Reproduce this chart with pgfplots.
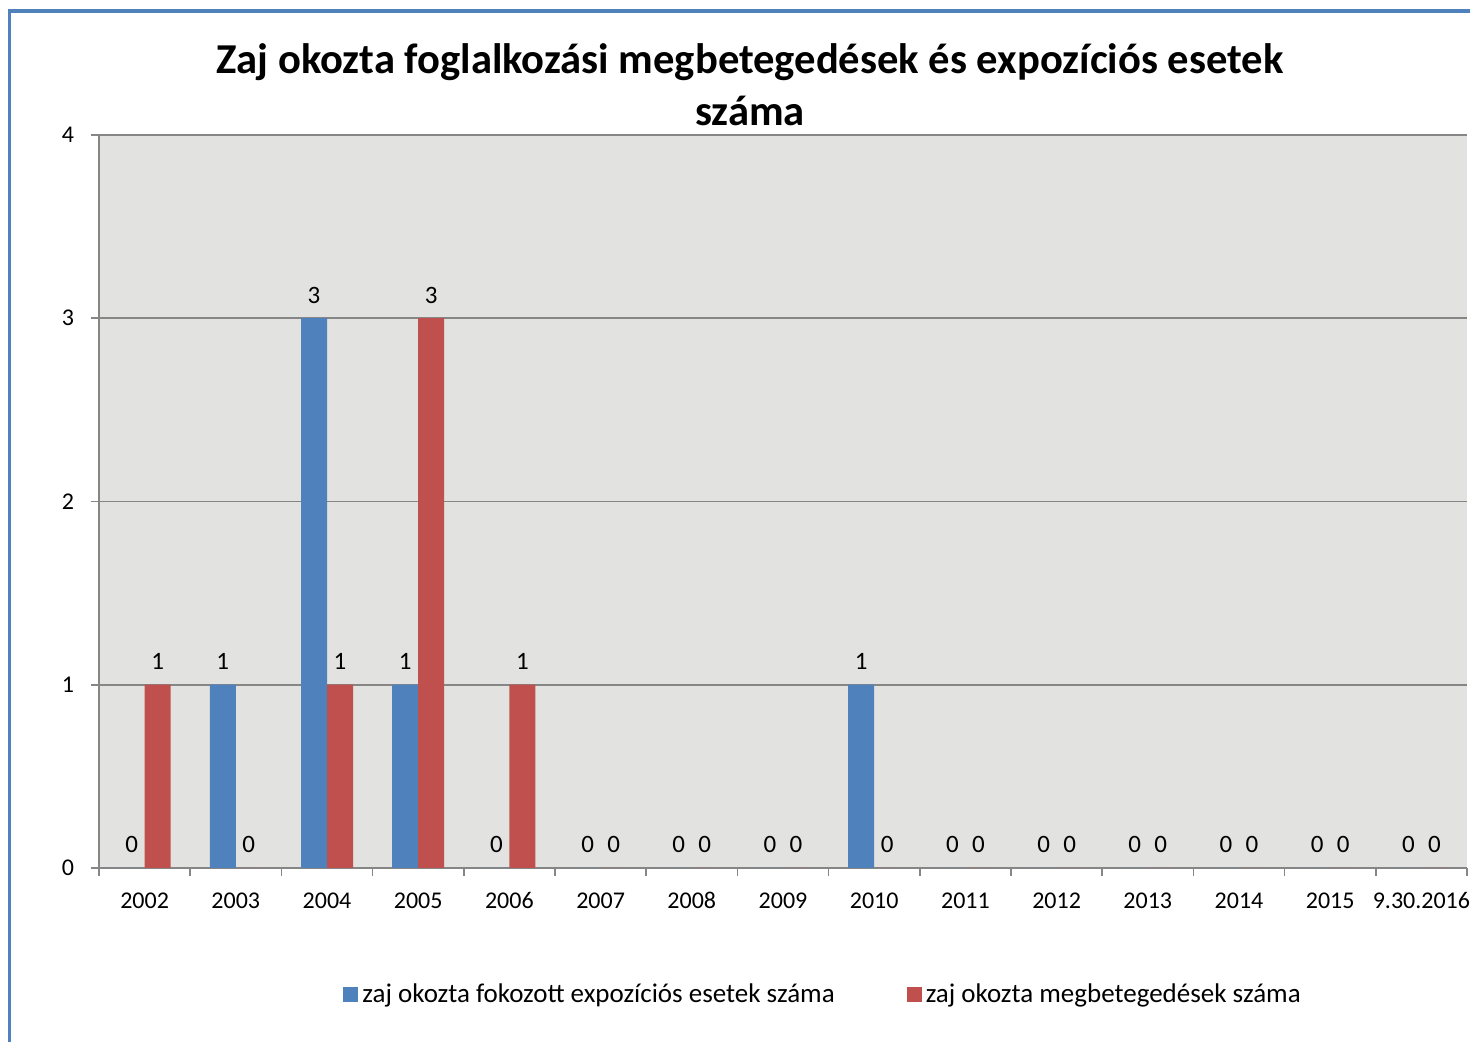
\documentclass[border=0pt]{standalone}
\usepackage{pgfplots}
\pgfplotsset{compat=1.18}
\usepackage{fontspec}
\setmainfont{Carlito}
\definecolor{xlblue}{RGB}{79,129,189}
\definecolor{xlred}{RGB}{192,80,77}
\definecolor{bgray}{RGB}{226,226,224}
\definecolor{gridgray}{RGB}{134,134,134}
\begin{document}
\begin{tikzpicture}
\useasboundingbox (0pt,0pt) rectangle (735pt,521pt);
\draw[xlblue,line width=1.6pt] (4.8pt,0pt) -- (4.8pt,515.5pt) -- (735pt,515.5pt);
\node[align=center,font=\fontsize{21.3}{26}\selectfont\bfseries] at (375pt,478.5pt)
  {Zaj okozta foglalkozási megbetegedések és expozíciós esetek\\száma};
\begin{axis}[
  at={(49.5pt,87pt)}, anchor=south west,
  scale only axis, width=684pt, height=366.5pt,
  xmin=-0.5, xmax=14.5, ymin=0, ymax=4,
  ybar=0pt, bar width=13pt,
  axis lines=left, axis line style={-,gridgray,line width=0.8pt},
  axis background/.style={fill=bgray},
  ymajorgrids, grid style={gridgray,line width=0.8pt},
  ytick={0,1,2,3,4},
  xtick={0,...,14},
  xticklabels={2002,2003,2004,2005,2006,2007,2008,2009,2010,2011,2012,2013,2014,2015,9.30.2016},
  minor xtick={-0.5,0.5,...,14.5},
  major x tick style={draw=none},
  minor x tick style={gridgray,line width=0.8pt},
  y tick style={gridgray,line width=0.8pt},
  tick align=outside,
  major tick length=4pt, minor tick length=4pt,
  xticklabel style={yshift=-4pt, text height=8.5pt, text depth=0pt},
  yticklabel style={xshift=-5pt},
  ticklabel style={font=\fontsize{12}{14}\selectfont},
  /pgf/number format/assume math mode=true,
  nodes near coords,
  every node near coord/.append style={font=\fontsize{12.5}{14}\selectfont,black,yshift=4pt},
  legend style={at={(0.53,-0.173)}, anchor=center, legend columns=2, draw=none, fill=none,
    font=\fontsize{13.5}{16}\selectfont, /tikz/every even column/.append style={column sep=34pt}},
  legend image code/.code={\fill[#1] (0pt,-3.8pt) rectangle (7.5pt,3.8pt);},
]
\addplot[fill=xlblue,draw=none] coordinates {(0,0) (1,1) (2,3) (3,1) (4,0) (5,0) (6,0) (7,0) (8,1) (9,0) (10,0) (11,0) (12,0) (13,0) (14,0)};
\addplot[fill=xlred,draw=none] coordinates {(0,1) (1,0) (2,1) (3,3) (4,1) (5,0) (6,0) (7,0) (8,0) (9,0) (10,0) (11,0) (12,0) (13,0) (14,0)};
\legend{zaj okozta fokozott expozíciós esetek száma, zaj okozta megbetegedések száma}
\end{axis}
\end{tikzpicture}
\end{document}
